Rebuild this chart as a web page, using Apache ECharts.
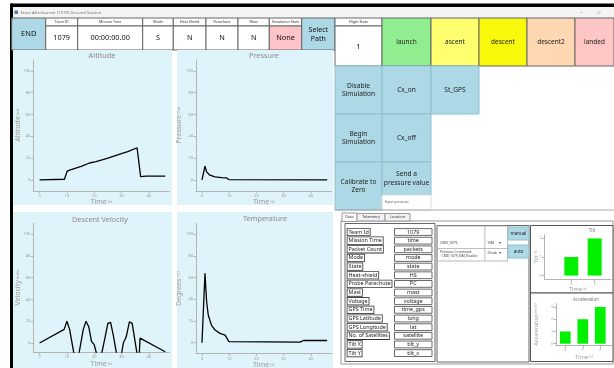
<!DOCTYPE html>
<html><head><meta charset="utf-8">
<script src="https://cdn.jsdelivr.net/npm/echarts@6/dist/echarts.min.js"></script>
<style>html,body{margin:0;padding:0;background:#fff;overflow:hidden}#c{width:614px;height:368px}</style>
</head><body><div id="c"></div>
<script>
// ---------------- data ----------------
const windowTitle = 'Team Afterburner (1079) Ground Station';
const headerLabels = ['Team ID', 'Mission Time', 'Mode', 'Heat Shield', 'Parachute', 'Mast', 'Simulation State'];
const headerValues = ['1079', '00:00:00.00', 'S', 'N', 'N', 'N', 'None'];
const flightStateValue = '1';
const flightStates = ['launch', 'ascent', 'descent', 'descent2', 'landed'];
const telemetryFields = ['Team Id', 'Mission Time', 'Packet Count', 'Mode', 'State', 'Heat-shield', 'Probe Parachute', 'Mast', 'Voltage', 'GPS Time', 'GPS Latitude', 'GPS Longitude', 'No. of Satellites', 'Tilt X', 'Tilt Y'];
const telemetryValues = ['1079', 'time', 'packets', 'mode', 'state', 'HS', 'PC', 'mast', 'voltage', 'time_gps', 'long', 'lat', 'satellite', 'tilt_y', 'tilt_x'];

const timeTicks = [0, 10, 20, 30, 40];
const valueTicks = [0, 20, 40, 60, 80, 100];

const altitudeTime = [0, 9.1, 10.1, 11, 15.2, 18.3, 20.7, 25, 30.5, 32.3, 35.7, 37, 39, 46];
const altitudeValues = [0, 0.6, 8, 9, 12.5, 15.5, 16.8, 20, 24.5, 26, 29.5, 3, 3.4, 3.4];

const pressureTime = [0, 1.1, 1.7, 2.9, 4.8, 7.2, 9.1, 9.9, 46];
const pressureValues = [0, 12.6, 7.4, 4.3, 2.8, 2.1, 1.8, 0.3, 0];

const velocityTime = [0, 9, 10, 11, 12.6, 14.4, 16, 17, 18, 19, 20, 20.9, 22.7, 24, 25, 26, 27, 28.2, 30, 30.7, 31.7, 32.9, 33.9, 34.8, 35.7, 36.5, 36.8, 46];
const velocityValues = [0, 12.5, 20, 12.5, -10, -10, 12.5, 20, 15, 1.5, -1.5, -10, -10, 5.5, 18, 19, 7, -10, -10, 0.3, 5.5, 19.5, 18, 4, -10, -10, 4.5, -8];

const temperatureTime = [0, 1.1, 1.7, 2.3, 3.5, 4.8, 6.6, 8.5, 9.1, 9.9, 10.3, 36, 37.3, 46];
const temperatureValues = [0, 64, 38, 25.5, 16, 11.7, 8.6, 7, 5.5, 1, 0.5, 0.5, 2, 2];

const tiltCategories = ['X', 'Y'];
const tiltValues = [1, 2];
const tiltTicks = [0, 1, 2];
const accelCategories = ['X', 'Y', 'Z'];
const accelValues = [1, 2, 3];
const accelTicks = [0, 1, 2, 3];

// ---------------- drawing ----------------
const FONT = '"Noto Sans", "Open Sans", "DejaVu Sans", sans-serif';
const AX = '#b4b4b4', LBL = '#9a9a9a', PANEL = '#dff3fb', BLUE = '#add8e6', BORDER = '#666';
const g = [];
function rect(x, y, w, h, fill, stroke, lw) {
  g.push({type: 'rect', z: 1, silent: true, shape: {x: x, y: y, width: w, height: h},
    style: {fill: fill || 'none', stroke: stroke || null, lineWidth: lw || 1}});
}
function text(x, y, str, size, color, align, extra) {
  g.push({type: 'text', z: 2, silent: true, x: x, y: y,
    style: Object.assign({text: str, fill: color || '#000', fontSize: size, fontFamily: FONT,
      align: align || 'center', verticalAlign: 'middle', lineHeight: size * 1.25}, extra || {})});
}

// window frame
rect(11, 3.5, 603, 3.5, '#000');
rect(10, 3.5, 3, 365, '#000');
rect(13, 7, 601, 11, '#f4f4f4');
rect(14.5, 10.5, 3.5, 3.5, '#4a7fb5');
text(20, 12.5, windowTitle, 4.3, '#777', 'left');
text(581.5, 12.5, '\u2013', 5, '#888');
text(599, 12.5, '\u25AB', 5, '#888');

// header row
rect(11.7, 18, 34, 32, BLUE, BORDER);
text(28.7, 34, 'END', 7.5, '#111');
const hx = [45.7, 77.7, 142.7, 173.3, 206, 238, 269.3, 301.7];
headerLabels.forEach(function (lab, i) {
  const x = hx[i], w = hx[i + 1] - hx[i];
  rect(x, 18, w, 8, '#fff', BORDER);
  text(x + w / 2, 22, lab, 3.6, '#333');
  rect(x, 26, w, 24, i === headerLabels.length - 1 ? '#ffc4c8' : '#fff', BORDER);
  text(x + w / 2, 38, headerValues[i], 7.3, '#111');
});
rect(301.7, 18, 33.3, 32, BLUE, BORDER);
text(318.3, 34.5, 'Select\nPath', 7, '#111', 'center', {lineHeight: 9});

// flight state row
rect(335, 18, 47, 8, '#fff', BORDER);
text(358.5, 22, 'Flight State', 3.6, '#333');
rect(335, 26, 47, 40, '#fff', BORDER);
text(358.5, 46.5, flightStateValue, 7.5, '#111');
const sx = [382, 431, 479, 527, 575, 614];
const sc = ['#90ee90', '#ffff70', '#f8f80a', '#ffd8b2', '#ffc6c6'];
flightStates.forEach(function (s, i) {
  rect(sx[i], 18, sx[i + 1] - sx[i], 48, sc[i], BORDER);
  text((sx[i] + sx[i + 1]) / 2, 42.3, s, 6.5, '#222');
});

// command buttons
const BST = '#8fbfcf';
function btn(x, y, w, h, label) { rect(x, y, w, h, BLUE, BST); text(x + w / 2, y + h / 2, label, 6.6, '#222', 'center', {lineHeight: 8.5}); }
btn(335, 66, 47, 48, 'Disable\nSimulation');
btn(382, 66, 49, 48, 'Cx_on');
btn(431, 66, 48, 48, 'St_GPS');
btn(335, 114, 47, 48, 'Begin\nSimulation');
btn(382, 114, 49, 48, 'Cx_off');
btn(335, 162, 47, 48, 'Calibrate to\nZero');
btn(382, 162, 49, 33, 'Send a\npressure value');
rect(382, 195, 49, 15, '#fff', '#ddd');
text(385, 202.3, 'Input pressure:', 3.3, '#555', 'left');
rect(335, 209.5, 279, 1, '#aaa');

// tabs + data panel
rect(341, 221, 272, 143, '#fff', '#999');
rect(342, 213, 15, 8.5, '#fff', '#999');
text(349.5, 217, 'Data', 3.8, '#333');
rect(357, 213.5, 28, 7.5, '#f2f2f2', '#999');
text(371, 217.2, 'Telemetry', 3.8, '#333');
rect(385, 213.5, 25, 7.5, '#f2f2f2', '#999');
text(397.5, 217.2, 'Location', 3.8, '#333');

rect(345, 223.5, 90, 138, '#fff', BORDER);
telemetryFields.forEach(function (f, i) {
  const cy = 232 + i * 8.65;
  text(347.5, cy, f, 5.4, '#222', 'left', {backgroundColor: '#fff', borderColor: '#333', borderWidth: 0.8, padding: [0, 1, 0, 1], lineHeight: 6.6});
  rect(394.5, cy - 3.4, 37.5, 6.8, '#fff', '#444', 0.8);
  text(413.2, cy, telemetryValues[i], 5.4, '#222');
});

rect(437, 225.5, 92, 136.5, '#fff', BORDER);
rect(437.5, 226, 70, 35, '#fff', '#aaa', 0.8);
rect(437.5, 248, 70, 0.8, '#aaa');
rect(484.5, 226, 0.8, 35, '#aaa');
text(440, 242.5, 'CMD,1079,', 3.6, '#444', 'left');
text(440, 252.5, 'Previous Command:', 3.4, '#444', 'left');
text(441.5, 256, 'CMD,1079,SIM,Disable', 3.4, '#444', 'left');
text(487.5, 242.5, 'SIM', 3.6, '#444', 'left');
text(500, 242.5, '\u25BE', 4, '#444');
text(487.5, 253, 'Disab', 3.6, '#444', 'left');
text(500, 253, '\u25BE', 4, '#444');
rect(508, 227, 21, 13, BLUE, BST);
text(518.5, 233.5, 'manual', 4.5, '#222');
rect(508, 245, 21, 13, BLUE, BST);
text(518.5, 251.5, 'auto', 4.5, '#222');

rect(530.5, 225.5, 82.5, 67.5, '#fff', '#555');
rect(530.5, 293, 82.5, 68.5, '#fff', '#555');
text(592, 231, 'Tilt', 4.5, '#777');
text(586, 299.3, 'Acceleration', 4.5, '#777');

// chart panels
rect(13, 50, 159, 155, PANEL);
rect(177, 50, 156, 155, PANEL);
rect(13, 212, 159, 156, PANEL);
rect(177, 212, 156, 156, PANEL);
text(102, 56, 'Altitude', 7.3, '#8a8a8a');
text(264, 56, 'Pressure', 7.3, '#8a8a8a');
text(100, 219.5, 'Descent Velocity', 7.3, '#8a8a8a');
text(265, 218.5, 'Temperature', 7.3, '#8a8a8a');

// ---------------- axes ----------------
function richName(sa, sb) {
  return {color: LBL, fontSize: sb, lineHeight: sa + 1, fontFamily: FONT,
    rich: {a: {fontSize: sa, lineHeight: sa + 1, fontFamily: FONT, color: LBL}, b: {fontSize: sb, lineHeight: sa + 1, fontFamily: FONT, color: LBL}}};
}
function mkX(gi, min, max, ticks, fmt, gap, sa, sb, lsize) {
  return {gridIndex: gi, type: 'value', min: min, max: max, z: 5,
    axisLine: {show: true, onZero: false, lineStyle: {color: AX, width: 1}},
    axisTick: {show: true, length: 2.5, customValues: ticks, lineStyle: {color: AX}},
    axisLabel: {show: true, customValues: ticks, fontSize: lsize, color: LBL, margin: 3, fontFamily: FONT, formatter: fmt},
    splitLine: {show: false},
    name: '{a|Time} {b|(s)}', nameLocation: 'middle', nameGap: gap, nameMoveOverlap: false, nameTextStyle: richName(sa, sb)};
}
function mkY(gi, min, max, ticks, name, unit, gap, sa, sb, lsize) {
  return {gridIndex: gi, type: 'value', min: min, max: max, z: 5,
    axisLine: {show: true, onZero: false, lineStyle: {color: AX, width: 1}},
    axisTick: {show: true, length: 2.5, customValues: ticks, lineStyle: {color: AX}},
    axisLabel: {show: true, customValues: ticks, fontSize: lsize, color: LBL, margin: 3, fontFamily: FONT},
    splitLine: {show: false},
    name: '{a|' + name + '} {b|(' + unit + ')}', nameLocation: 'middle', nameRotate: 90, nameGap: gap, nameMoveOverlap: false, nameTextStyle: richName(sa, sb)};
}
function zip(a, b) { return a.map(function (t, i) { return [t, b[i]]; }); }

const grids = [
  {left: 33.3, top: 60, width: 136, height: 130.8},
  {left: 196, top: 60, width: 135.5, height: 130.8},
  {left: 33.3, top: 223.1, width: 136, height: 129},
  {left: 196, top: 223.5, width: 135.5, height: 130},
  {left: 544.5, top: 234.7, width: 66.5, height: 44.6},
  {left: 556, top: 303.7, width: 56, height: 41.6}
].map(function (o) { return Object.assign({containLabel: false, outerBoundsMode: 'none', show: false}, o); });

const xAxes = [
  mkX(0, -2.3, 47.5, timeTicks, null, 7, 7, 4, 4),
  mkX(1, -2.2, 47.6, timeTicks, null, 7, 7, 4, 4),
  mkX(2, -2.3, 47.5, timeTicks, null, 8, 7, 4, 4),
  mkX(3, -2.2, 47.6, timeTicks, null, 7, 7, 4, 4),
  mkX(4, -0.15, 2.7, tiltCategories.map(function (c, i) { return i + 1; }), function (v) { return tiltCategories[Math.round(v) - 1] || ''; }, 6.4, 5.5, 3.5, 3.6),
  mkX(5, 0.47, 3.67, accelCategories.map(function (c, i) { return i + 1; }), function (v) { return accelCategories[Math.round(v) - 1] || ''; }, 8.7, 5.5, 3.5, 3.6)
];
const yAxes = [
  mkY(0, -10, 110, valueTicks, 'Altitude', 'm', 11, 7, 4, 4),
  mkY(1, -10, 110, valueTicks, 'Pressure', 'Pa', 13, 7, 4, 4),
  mkY(2, -8.3, 110, valueTicks, 'Velocity', 'm/s', 11, 7, 4, 4),
  mkY(3, -10, 110, valueTicks, 'Degrees', '\u00B0C', 13, 7, 4, 4),
  mkY(4, -0.2, 2.2, tiltTicks, 'Tilt', '\u00B0', 4.8, 5.5, 3.5, 3.6),
  mkY(5, -0.13, 3.27, accelTicks, 'Acceleration', 'm/s\u00B2', 16.3, 5.5, 3.5, 3.6)
];

function lineSeries(i, t, v) {
  return {type: 'line', xAxisIndex: i, yAxisIndex: i, data: zip(t, v), symbol: 'none', clip: true, z: 6,
    lineStyle: {color: '#000', width: 1.3}, animation: false};
}
const series = [
  lineSeries(0, altitudeTime, altitudeValues),
  lineSeries(1, pressureTime, pressureValues),
  lineSeries(2, velocityTime, velocityValues),
  lineSeries(3, temperatureTime, temperatureValues),
  {type: 'bar', xAxisIndex: 4, yAxisIndex: 4, z: 6, barWidth: 14, itemStyle: {color: '#00f000'},
    data: tiltValues.map(function (v, i) { return [i + 1, v]; }), animation: false},
  {type: 'bar', xAxisIndex: 5, yAxisIndex: 5, z: 6, barWidth: 10.7, itemStyle: {color: '#00f000'},
    data: accelValues.map(function (v, i) { return [i + 1, v]; }), animation: false}
];

const chart = echarts.init(document.getElementById('c'), null, {renderer: 'canvas', width: 614, height: 368});
chart.setOption({
  animation: false,
  backgroundColor: '#fff',
  grid: grids,
  xAxis: xAxes,
  yAxis: yAxes,
  series: series,
  graphic: {elements: g}
});
</script>
</body></html>
